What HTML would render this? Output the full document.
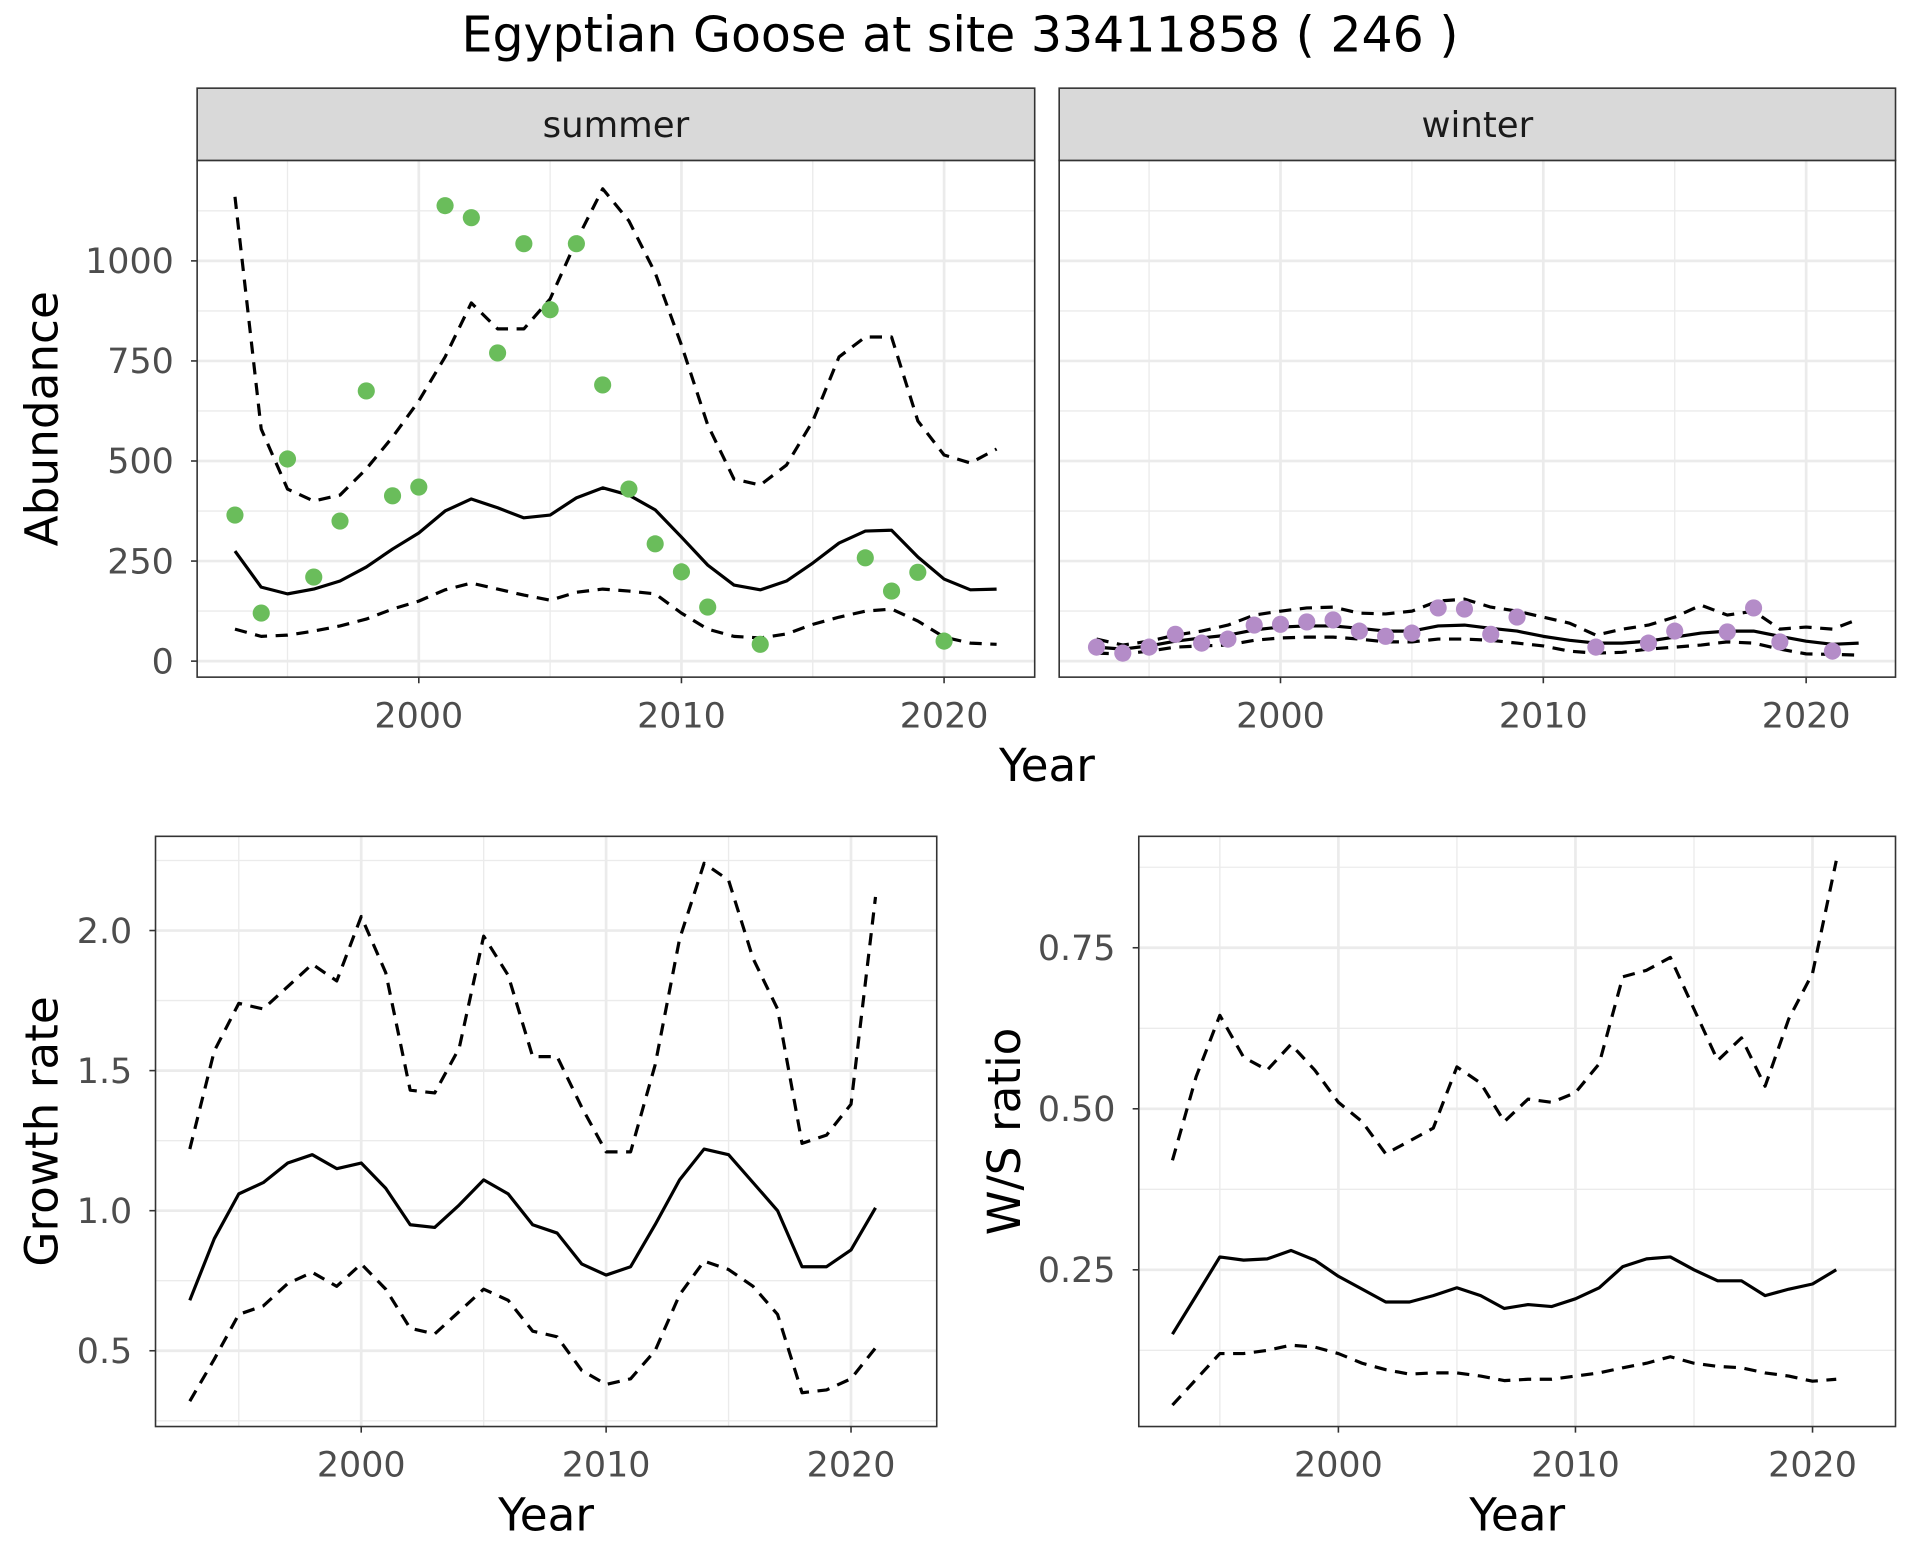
<!DOCTYPE html>
<html><head><meta charset="utf-8"><style>
html,body{margin:0;padding:0;background:#fff}
svg{display:block;font-family:"DejaVu Sans","Liberation Sans",sans-serif}
</style></head><body>
<svg id="chart" width="1920" height="1560" viewBox="0 0 1568 1274" xmlns="http://www.w3.org/2000/svg">
<text x="784" y="42" text-anchor="middle" font-size="40" fill="#000">Egyptian Goose at site 33411858 ( 246 )</text>
</svg>
<script>
const years = [1993,1994,1995,1996,1997,1998,1999,2000,2001,2002,2003,2004,2005,2006,2007,2008,2009,2010,2011,2012,2013,2014,2015,2016,2017,2018,2019,2020,2021,2022];
const summerPtYears = [1993,1994,1995,1996,1997,1998,1999,2000,2001,2002,2003,2004,2005,2006,2007,2008,2009,2010,2011,2013,2017,2018,2019,2020];
const summerPts = [365,120,505,210,350,675,413,435,1138,1108,770,1043,878,1043,690,430,293,223,135,42,258,175,222,50];
const summerMid = [275,185,168,180,200,235,280,320,375,405,383,358,365,408,433,415,378,310,240,190,178,200,245,295,325,327,260,205,178,180];
const summerUp = [1160,580,430,400,415,480,560,650,760,895,830,830,905,1050,1180,1100,970,790,590,455,440,490,600,760,810,810,600,515,495,530];
const summerLo = [80,62,65,75,88,105,130,150,178,195,180,165,152,172,180,175,168,120,80,62,58,68,92,110,125,130,100,60,45,42];
const winterPtYears = [1993,1994,1995,1996,1997,1998,1999,2000,2001,2002,2003,2004,2005,2006,2007,2008,2009,2012,2014,2015,2017,2018,2019,2021];
const winterPts = [35,20,35,67,45,55,90,92,98,103,75,62,70,133,130,67,110,35,45,75,73,133,48,25];
const winterMid = [35,30,38,50,58,65,78,85,88,88,82,75,75,88,90,82,75,62,52,45,45,50,60,70,75,75,62,50,42,45];
const winterUp = [55,40,50,65,75,90,115,125,133,135,120,118,125,150,155,135,125,110,95,65,80,90,110,140,115,125,80,85,80,105];
const winterLo = [20,18,25,35,38,40,52,58,60,60,55,48,48,55,55,52,45,38,25,20,22,30,35,40,48,45,30,18,17,15];
const rateYears = [1993,1994,1995,1996,1997,1998,1999,2000,2001,2002,2003,2004,2005,2006,2007,2008,2009,2010,2011,2012,2013,2014,2015,2016,2017,2018,2019,2020,2021];
const growthMid = [0.68,0.90,1.06,1.10,1.17,1.20,1.15,1.17,1.08,0.95,0.94,1.02,1.11,1.06,0.95,0.92,0.81,0.77,0.80,0.95,1.11,1.22,1.20,1.10,1.00,0.80,0.80,0.86,1.01];
const growthUp = [1.22,1.57,1.74,1.72,1.80,1.88,1.82,2.05,1.85,1.43,1.42,1.58,1.98,1.84,1.55,1.55,1.37,1.21,1.21,1.52,1.97,2.24,2.18,1.90,1.72,1.24,1.27,1.38,2.12];
const growthLo = [0.32,0.47,0.63,0.66,0.74,0.78,0.73,0.81,0.72,0.58,0.56,0.64,0.72,0.68,0.57,0.55,0.43,0.38,0.40,0.50,0.70,0.82,0.79,0.73,0.63,0.35,0.36,0.40,0.51];
const wsMid = [0.15,0.21,0.27,0.265,0.267,0.28,0.265,0.24,0.22,0.20,0.20,0.21,0.222,0.21,0.19,0.196,0.193,0.205,0.222,0.255,0.267,0.27,0.25,0.233,0.233,0.21,0.22,0.228,0.25];
const wsUp = [0.42,0.55,0.645,0.58,0.56,0.6,0.56,0.51,0.48,0.43,0.45,0.47,0.565,0.54,0.48,0.515,0.51,0.525,0.57,0.705,0.715,0.735,0.655,0.575,0.61,0.535,0.64,0.71,0.885];
const wsLo = [0.04,0.08,0.12,0.12,0.125,0.133,0.13,0.12,0.105,0.095,0.088,0.09,0.09,0.085,0.078,0.08,0.08,0.085,0.09,0.098,0.105,0.115,0.105,0.10,0.098,0.09,0.085,0.077,0.08];
const xTicks = [2000,2010,2020];
const xMinor = [1995,2005,2015];
const abTicks = [0,250,500,750,1000];
const abMinor = [125,375,625,875,1125];
const grTicks = [0.5,1.0,1.5,2.0];
const grMinor = [0.25,0.75,1.25,1.75,2.25];
const wsTicks = [0.25,0.50,0.75];
const wsMinor = [0.125,0.375,0.625,0.875];

const svg = document.getElementById('chart');
const NS = 'http://www.w3.org/2000/svg';
function mk(tag, attrs, parent){
  const e = document.createElementNS(NS, tag);
  for (const k in attrs) e.setAttribute(k, attrs[k]);
  (parent||svg).appendChild(e); return e;
}
function panel(o){
  const g = mk('g', {});
  
  
  const sx = v => o.x0 + (v - o.xd[0]) / (o.xd[1] - o.xd[0]) * (o.x1 - o.x0);
  const sy = v => o.y1 - (v - o.yd[0]) / (o.yd[1] - o.yd[0]) * (o.y1 - o.y0);
  const bg = mk('rect', {x:o.x0, y:o.y0, width:o.x1-o.x0, height:o.y1-o.y0, fill:'#fff'}, g);
  
  
  o.yMinor.forEach(v => { const l = mk('line',{x1:o.x0,x2:o.x1,y1:sy(v),y2:sy(v),stroke:'#ebebeb','stroke-width':1.1},g);
      });
  xMinor.forEach(v => { const l = mk('line',{x1:sx(v),x2:sx(v),y1:o.y0,y2:o.y1,stroke:'#ebebeb','stroke-width':1.1},g);
      });
  o.yTicks.forEach((v,i) => {
    const l = mk('line',{x1:o.x0,x2:o.x1,y1:sy(v),y2:sy(v),stroke:'#ebebeb','stroke-width':2.2},g);
     
    if (o.showY) {
      const t = mk('line',{x1:o.x0-5,x2:o.x0,y1:sy(v),y2:sy(v),stroke:'#333','stroke-width':1.3},g);
       
      const tx = mk('text',{x:o.x0-19,y:sy(v)+10,'text-anchor':'end','font-size':28.5,fill:'#4d4d4d'},g);
       
      tx.textContent = o.yLabels[i];
    }
  });
  xTicks.forEach(v => {
    const l = mk('line',{x1:sx(v),x2:sx(v),y1:o.y0,y2:o.y1,stroke:'#ebebeb','stroke-width':2.2},g);
     
    const t = mk('line',{x1:sx(v),x2:sx(v),y1:o.y1,y2:o.y1+5,stroke:'#333','stroke-width':1.3},g);
     
    const tx = mk('text',{x:sx(v),y:o.y1+41,'text-anchor':'middle','font-size':28.5,fill:'#4d4d4d'},g);
     
    tx.textContent = v;
  });
  o.lines.forEach(ln => {
    const d = ln.vals.map((v,i) => (i?'L':'M') + sx(ln.xs[i]).toFixed(1) + ',' + sy(v).toFixed(1)).join(' ');
    const p = mk('path',{d:d,fill:'none',stroke:'#000','stroke-width':2.6,'stroke-dasharray':ln.dash?'10,7':'none','stroke-linejoin':'round'},g);
     
  });
  if (o.pts) o.pts.forEach((v,i) => {
    const c = mk('circle',{cx:sx(o.ptYears[i]),cy:sy(v),r:7,fill:o.ptColor},g);
     
  });
  const b = mk('rect',{x:o.x0,y:o.y0,width:o.x1-o.x0,height:o.y1-o.y0,fill:'none',stroke:'#333','stroke-width':1.3},g);
   
  if (o.strip) {
    const s = mk('rect',{x:o.x0,y:72,width:o.x1-o.x0,height:o.y0-72,fill:'#d9d9d9',stroke:'#333','stroke-width':1.3},g);
     
    const st = mk('text',{x:(o.x0+o.x1)/2,y:112,'text-anchor':'middle','font-size':29,fill:'#1a1a1a'},g);
     
    st.textContent = o.strip;
  }
  if (o.xTitle) {
    const xt = mk('text',{x:o.xTitle,y:o.y1+85,'text-anchor':'middle','font-size':37,fill:'#000'},g);
     
    xt.textContent = 'Year';
  }
  if (o.yTitle) {
    const cy = (o.y0+o.y1)/2;
    const yt = mk('text',{x:o.yTitleX,y:cy,'text-anchor':'middle','font-size':37,fill:'#000',transform:'rotate(-90 '+o.yTitleX+' '+cy+')'},g);
     
    yt.textContent = o.yTitle;
  }
}
const abLabels = abTicks.map(String);
panel({name:'summer-panel',x0:161,x1:845,y0:131,y1:553,xd:[1991.56,2023.45],yd:[-40,1251],
  yTicks:abTicks,yMinor:abMinor,yLabels:abLabels,showY:true,strip:'summer',yTitle:'Abundance',yTitleX:47,
  lines:[{xs:years,vals:summerMid,name:'summer-mean-line'},{xs:years,vals:summerUp,dash:1,name:'summer-upper-ci'},{xs:years,vals:summerLo,dash:1,name:'summer-lower-ci'}],
  pts:summerPts,ptYears:summerPtYears,ptColor:'#6abd5b'});
panel({name:'winter-panel',x0:865,x1:1548,y0:131,y1:553,xd:[1991.58,2023.4],yd:[-40,1251],
  yTicks:abTicks,yMinor:abMinor,yLabels:abLabels,showY:false,strip:'winter',
  lines:[{xs:years,vals:winterMid,name:'winter-mean-line'},{xs:years,vals:winterUp,dash:1,name:'winter-upper-ci'},{xs:years,vals:winterLo,dash:1,name:'winter-lower-ci'}],
  pts:winterPts,ptYears:winterPtYears,ptColor:'#b48cc8'});
const yt = mk('text',{x:855,y:638,'text-anchor':'middle','font-size':37,fill:'#000'});
 
yt.textContent = 'Year';
panel({name:'growth-rate-panel',x0:127,x1:765,y0:683,y1:1165,xd:[1991.6,2023.5],yd:[0.2295,2.3363],
  yTicks:grTicks,yMinor:grMinor,yLabels:['0.5','1.0','1.5','2.0'],showY:true,yTitle:'Growth rate',yTitleX:47,xTitle:446,
  lines:[{xs:rateYears,vals:growthMid,name:'growth-mean-line'},{xs:rateYears,vals:growthUp,dash:1,name:'growth-upper-ci'},{xs:rateYears,vals:growthLo,dash:1,name:'growth-lower-ci'}]});
panel({name:'ws-ratio-panel',x0:930,x1:1548,y0:683,y1:1165,xd:[1991.58,2023.5],yd:[0.0067,0.923],
  yTicks:wsTicks,yMinor:wsMinor,yLabels:['0.25','0.50','0.75'],showY:true,yTitle:'W/S ratio',yTitleX:833,xTitle:1239,
  lines:[{xs:rateYears,vals:wsMid,name:'ws-mean-line'},{xs:rateYears,vals:wsUp,dash:1,name:'ws-upper-ci'},{xs:rateYears,vals:wsLo,dash:1,name:'ws-lower-ci'}]});
</script>
</body></html>
